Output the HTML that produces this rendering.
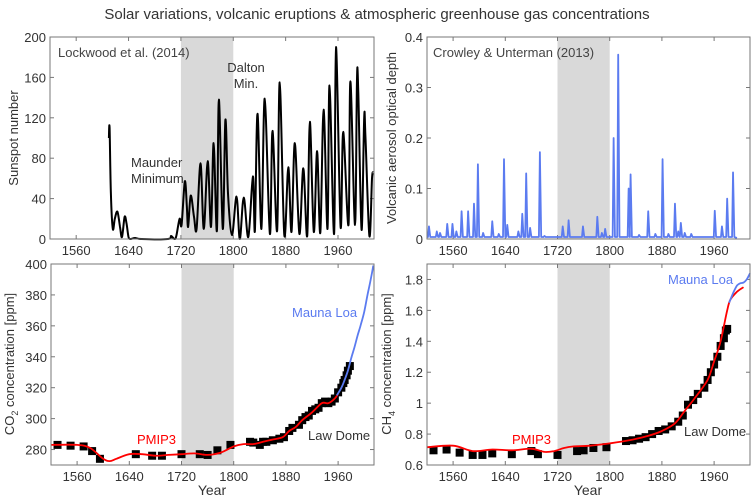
<!DOCTYPE html>
<html><head><meta charset="utf-8"><style>
body{margin:0;background:#fff}
svg{display:block;font-family:"Liberation Sans",sans-serif}
text{fill:#333}
</style></head><body>
<svg id="c" width="754" height="499" xmlns="http://www.w3.org/2000/svg">
<text x="377" y="19" font-size="15" text-anchor="middle">Solar variations, volcanic eruptions &amp; atmospheric greenhouse gas concentrations</text>
</svg>
<script>
const xTicks=[1560,1640,1720,1800,1880,1960];
const sunYears=[1610,1611,1613,1616,1619,1623,1627,1630,1634,1637,1640,1643,1650,1660,1700,1705,1710,1713,1718,1721,1726,1729,1731,1735,1740,1744,1750,1755,1761,1766,1770,1775,1778,1784,1788,1792,1798,1805,1810,1816,1823,1830,1833,1837,1843,1848,1856,1860,1867,1871,1878,1884,1889,1894,1901,1907,1913,1917,1923,1928,1933,1938,1944,1947,1954,1957,1964,1968,1976,1979,1986,1989,1991,1996,2000,2002,2008,2012,2014];
const sunVals=[100,110,45,10,20,27,12,2,22,15,2,0,1,0,0,3,0,3,20,14,57,33,12,43,22,10,75,10,77,12,95,8,138,10,118,45,4,42,0,41,2,62,8,124,10,139,5,107,8,155,4,71,7,95,5,70,3,116,7,87,6,128,10,152,5,190,12,106,14,156,14,158,145,9,120,100,3,60,65];
const volYears=[1523,1535,1540,1551,1559,1565,1573,1583,1592,1598,1606,1620,1630,1638,1643,1660,1666,1672,1678,1693,1700,1728,1737,1759,1781,1788,1793,1806,1813,1829,1832,1845,1859,1870,1881,1890,1900,1905,1909,1915,1925,1961,1972,1980,1989];
const volVals=[0.025,0.015,0.012,0.03,0.03,0.015,0.055,0.055,0.07,0.148,0.012,0.035,0.01,0.158,0.028,0.015,0.05,0.13,0.022,0.172,0.006,0.025,0.037,0.025,0.044,0.012,0.02,0.2,0.365,0.1,0.128,0.008,0.055,0.01,0.158,0.01,0.07,0.015,0.032,0.012,0.01,0.056,0.025,0.08,0.132];
const co2LawYears=[1530,1550,1570,1583,1595,1650,1675,1690,1720,1748,1760,1775,1795,1825,1830,1840,1845,1850,1860,1870,1877,1885,1890,1900,1905,1910,1915,1920,1925,1930,1935,1940,1945,1950,1955,1960,1965,1968,1970,1973,1975,1978];
const co2LawVals=[283,282.5,282,279,274,277,276,276,277,277,276.5,279.5,283,285,284.5,283,285,285,286,287,288,292,294,296,299,301,302,305,306,307,310,311,310,311,313,317,320,323,325,328,331,334];
const co2PmipYears=[1520,1560,1580,1600,1610,1620,1640,1660,1680,1700,1720,1740,1760,1780,1800,1815,1830,1845,1860,1875,1885,1895,1905,1920,1935,1945,1955,1960];
const co2PmipVals=[283,283,281,274,272.5,274,277,277,276,276.5,277,277.5,276.5,278,282,283.5,283.5,285,286.5,288,292,294.5,299,304,310,310,313,316];
const co2MloYears=[1958,1965,1970,1975,1980,1985,1990,1995,2000,2005,2010,2014];
const co2MloVals=[315,320,325,331,339,346,354,361,369,380,390,399];
const ch4LawYears=[1530,1550,1570,1590,1605,1620,1650,1680,1690,1720,1750,1760,1775,1795,1825,1835,1845,1855,1865,1875,1885,1895,1905,1912,1920,1928,1935,1945,1950,1955,1960,1965,1970,1975,1978,1980];
const ch4LawVals=[0.695,0.7,0.68,0.665,0.665,0.675,0.67,0.69,0.67,0.665,0.69,0.695,0.71,0.715,0.755,0.76,0.77,0.78,0.8,0.82,0.83,0.85,0.88,0.92,0.99,1.02,1.06,1.1,1.15,1.2,1.25,1.3,1.37,1.42,1.47,1.48];
const ch4PmipYears=[1520,1560,1590,1620,1650,1680,1700,1715,1730,1745,1770,1800,1830,1860,1880,1900,1915,1930,1950,1960,1970,1980,1985,1995,2005];
const ch4PmipVals=[0.715,0.725,0.69,0.7,0.695,0.705,0.685,0.69,0.71,0.72,0.725,0.74,0.76,0.79,0.82,0.87,0.95,1.03,1.15,1.27,1.4,1.6,1.67,1.72,1.75];
const ch4MloYears=[1983,1990,1995,2000,2005,2010,2015];
const ch4MloVals=[1.65,1.72,1.76,1.775,1.78,1.8,1.84];

const NS='http://www.w3.org/2000/svg';
const svg=document.getElementById('c');
function mk(tag,attrs,parent){const e=document.createElementNS(NS,tag);for(const k in attrs)e.setAttribute(k,attrs[k]);(parent||svg).appendChild(e);return e;}
function smooth(pts){let d='M'+pts[0][0].toFixed(1)+','+pts[0][1].toFixed(1);
 for(let i=0;i<pts.length-1;i++){const p0=pts[Math.max(0,i-1)],p1=pts[i],p2=pts[i+1],p3=pts[Math.min(pts.length-1,i+2)];
 const c1=[p1[0]+(p2[0]-p0[0])/6,p1[1]+(p2[1]-p0[1])/6],c2=[p2[0]-(p3[0]-p1[0])/6,p2[1]-(p3[1]-p1[1])/6];
 d+=' C'+c1[0].toFixed(1)+','+c1[1].toFixed(1)+' '+c2[0].toFixed(1)+','+c2[1].toFixed(1)+' '+p2[0].toFixed(1)+','+p2[1].toFixed(1);}return d;}
function panel(o){
 const g=mk('g',{});
 
 
 const x=v=>o.x0+(v-1520)/(2015-1520)*(o.x1-o.x0);
 const y=v=>o.y1-(v-o.ymin)/(o.ymax-o.ymin)*(o.y1-o.y0);
 const sh=mk('rect',{x:x(1720),y:o.y0,width:x(1800)-x(1720),height:o.y1-o.y0,fill:'#d9d9d9'},g);
 
 
 xTicks.forEach(t=>{mk('line',{x1:x(t),x2:x(t),y1:o.y1,y2:o.y1-4,stroke:'#777'},g);mk('line',{x1:x(t),x2:x(t),y1:o.y0,y2:o.y0+4,stroke:'#777'},g);
  const tl=mk('text',{x:x(t),y:o.y1+16,'font-size':13,'text-anchor':'middle'},g);tl.textContent=t;
  
  });
 o.yTicks.forEach((t,i)=>{mk('line',{x1:o.x0,x2:o.x0+4,y1:y(t),y2:y(t),stroke:'#777'},g);mk('line',{x1:o.x1,x2:o.x1-4,y1:y(t),y2:y(t),stroke:'#777'},g);
  const tl=mk('text',{x:o.x0-4,y:y(t)+5,'font-size':13,'text-anchor':'end'},g);tl.textContent=o.yLabels[i];
  
  });
 o.draw(g,x,y);
 const fr=mk('rect',{x:o.x0,y:o.y0,width:o.x1-o.x0,height:o.y1-o.y0,fill:'none',stroke:'#777','stroke-width':1},g);
 
 
 return {x,y,g};
}
function line(g,x,y,xs,vs,col,w,name){const p=mk('path',{d:smooth(xs.map((v,i)=>[x(v),y(vs[i])])),fill:'none',stroke:col,'stroke-width':w,'stroke-linejoin':'round'},g);
 
 }
function squares(g,x,y,xs,vs,name){xs.forEach((v,i)=>{const r=mk('rect',{x:x(v)-4,y:y(vs[i])-4,width:8,height:8,fill:'#000'},g);
 
 });}
function label(txt,x,y,col,name,anchor,size){const t=mk('text',{x:x,y:y,'font-size':size||13,fill:col,'text-anchor':anchor||'start'});t.textContent=txt;t.style.fill=col;
 
 return t;}
function ytitle(txt,x,y,name){const t=mk('text',{x:0,y:0,'font-size':13,'text-anchor':'middle',transform:`translate(${x},${y}) rotate(-90)`});t.innerHTML=txt;
 
 }

panel({name:'sunspot-panel',x0:50,x1:374,y0:37,y1:239,ymin:0,ymax:200,yTicks:[0,40,80,120,160,200],yLabels:['0','40','80','120','160','200'],
 draw:(g,x,y)=>line(g,x,y,sunYears,sunVals,'#000',2,'sunspot-line')});
panel({name:'volcanic-panel',x0:427,x1:750,y0:37,y1:239,ymin:0,ymax:0.4,yTicks:[0,0.1,0.2,0.3,0.4],yLabels:['0','0.1','0.2','0.3','0.4'],
 draw:(g,x,y)=>{let d='M'+x(1520)+','+y(0.004);volYears.forEach((v,i)=>{d+=` L${x(v-1.5)},${y(0.004)} L${x(v)},${y(volVals[i])} L${x(v+2)},${y(0.004)}`;});d+=` L${x(1995)},${y(0.002)}`;
  const p=mk('path',{d:d,fill:'none',stroke:'#5b7bf0','stroke-width':1.8,'stroke-linejoin':'round'},g);
  
  }});
panel({name:'co2-panel',x0:51,x1:374,y0:264,y1:465,ymin:270,ymax:400,yTicks:[280,300,320,340,360,380,400],yLabels:['280','300','320','340','360','380','400'],
 draw:(g,x,y)=>{squares(g,x,y,co2LawYears,co2LawVals,'co2-law-dome-point');line(g,x,y,co2PmipYears,co2PmipVals,'#f00',1.8,'co2-pmip3-line');line(g,x,y,co2MloYears,co2MloVals,'#5b7bf0',1.8,'co2-mauna-loa-line');}});
panel({name:'ch4-panel',x0:427,x1:750,y0:264,y1:465,ymin:0.6,ymax:1.9,yTicks:[0.6,0.8,1,1.2,1.4,1.6,1.8],yLabels:['0.6','0.8','1','1.2','1.4','1.6','1.8'],
 draw:(g,x,y)=>{squares(g,x,y,ch4LawYears,ch4LawVals,'ch4-law-dome-point');line(g,x,y,ch4PmipYears,ch4PmipVals,'#f00',1.8,'ch4-pmip3-line');line(g,x,y,ch4MloYears,ch4MloVals,'#5b7bf0',1.8,'ch4-mauna-loa-line');}});

label('Lockwood et al. (2014)',58,57,'#444','source-label-sunspot');
label('Maunder',131,167,'#333','maunder-label');
label('Minimum',131,183,'#333','maunder-label-2');
label('Dalton',246,72,'#333','dalton-label','middle');
label('Min.',246,88,'#333','dalton-label-2','middle');
label('Crowley & Unterman (2013)',433,57,'#444','source-label-volcanic');
label('Mauna Loa',292,317,'#5b7bf0','co2-mauna-loa-label');
label('PMIP3',137,444,'#f00','co2-pmip3-label');
label('Law Dome',308,440,'#333','co2-law-dome-label');
label('Mauna Loa',668,284,'#5b7bf0','ch4-mauna-loa-label');
label('PMIP3',512,444,'#f00','ch4-pmip3-label');
label('Law Dome',684,436,'#333','ch4-law-dome-label');
label('Year',212,495,'#333','co2-x-axis-title','middle',14);
label('Year',588,495,'#333','ch4-x-axis-title','middle',14);
ytitle('Sunspot number',18,138,'sunspot-y-axis-title');
ytitle('Volcanic aerosol optical depth',396,138,'volcanic-y-axis-title');
ytitle('CO<tspan font-size="9" dy="4">2</tspan><tspan dy="-4"> concentration  [ppm]</tspan>',14,364,'co2-y-axis-title');
ytitle('CH<tspan font-size="9" dy="4">4</tspan><tspan dy="-4"> concentration  [ppm]</tspan>',391,364,'ch4-y-axis-title');
</script>
</body></html>
